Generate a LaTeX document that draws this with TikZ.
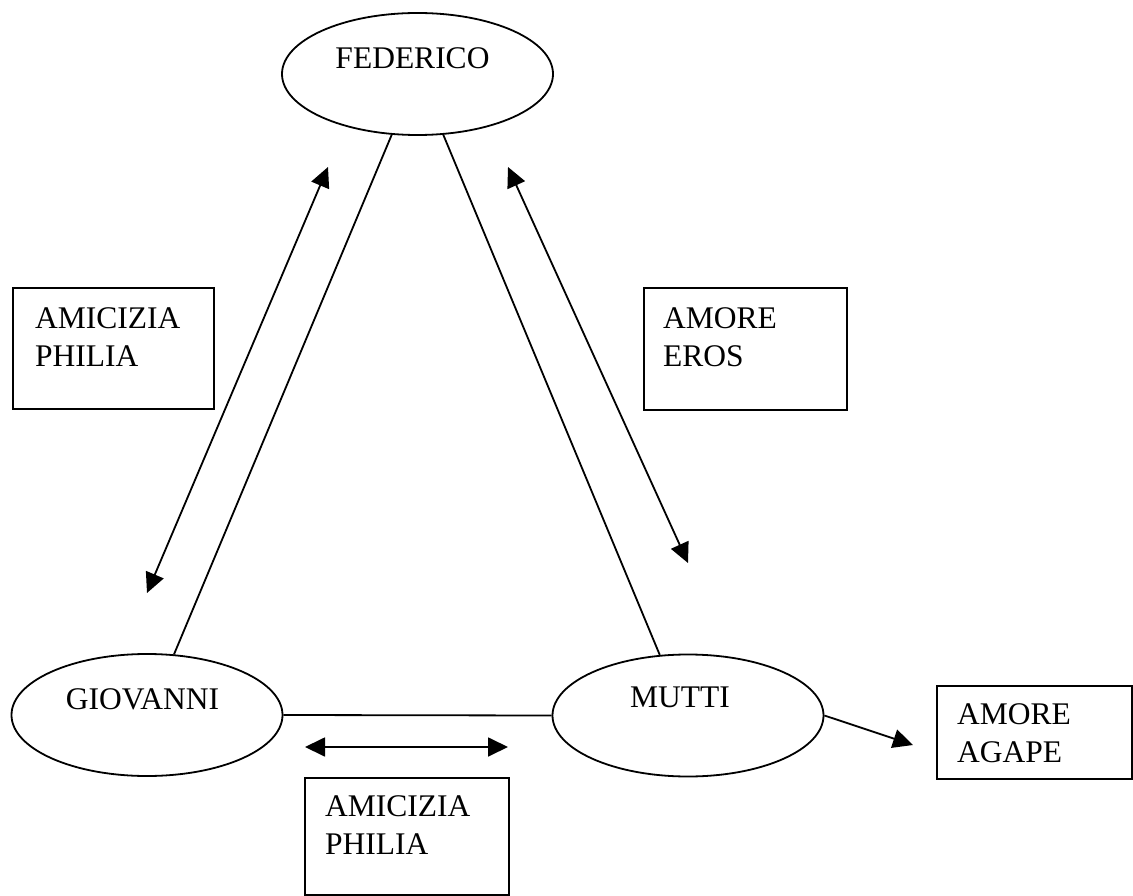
\documentclass[tikz,border=0pt]{standalone}
\usepackage{fontspec}
\setmainfont{Liberation Serif}
\usetikzlibrary{shapes.geometric,arrows.meta,calc}
\tikzset{
  person/.style={draw, ellipse, line width=1.8pt, inner sep=0pt, minimum width=271pt, minimum height=122pt},
  pname/.style={inner sep=0pt, anchor=north, font=\fontsize{31.5}{38}\selectfont},
  box/.style={draw, rectangle, line width=2pt, inner sep=0pt, anchor=north west},
  lbl/.style={inner sep=0pt, anchor=north west, align=left, font=\fontsize{31.5}{38}\selectfont},
  link/.style={line width=1.8pt},
  rel/.style={line width=1.8pt, {Triangle[length=20pt,width=19pt]}-{Triangle[length=20pt,width=19pt]}},
  onerel/.style={line width=1.8pt, -{Triangle[length=20pt,width=19pt]}}
}
\begin{document}
\begin{tikzpicture}[x=1pt,y=-1pt]
\useasboundingbox (0,0) rectangle (1133,896);
% persons
\node[person] (fed) at (417.5,74) {};
\node[person] (gio) at (147,715) {};
\node[person] (mut) at (688,715.5) {};
\node[pname] (fedl) at (412.5,47) {FEDERICO};
\node[pname] (giol) at (142.5,688) {GIOVANNI};
\node[pname] (mutl) at (680,687) {MUTTI};
% links
\draw[link] (fed.247) -- (gio.66);
\draw[link] (fed.293) -- (mut.115);
\draw[link] (gio.east) -- (mut.west);
% boxes
\node[box, minimum width=201pt, minimum height=121pt] (b1) at (12,287) {};
\node[lbl] (b1l) at (35,307) {AMICIZIA\\PHILIA};
\node[box, minimum width=203pt, minimum height=122pt] (b2) at (643,287) {};
\node[lbl] (b2l) at (663,307) {AMORE\\EROS};
\node[box, minimum width=195pt, minimum height=93pt] (b3) at (936,685) {};
\node[lbl] (b3l) at (957,703) {AMORE\\AGAPE};
\node[box, minimum width=204pt, minimum height=117pt] (b4) at (304,777) {};
\node[lbl] (b4l) at (325,795) {AMICIZIA\\PHILIA};
% relation arrows
\coordinate (a1s) at (328,167);
\coordinate (a1e) at (147,593);
\coordinate (a2s) at (508,167);
\coordinate (a2e) at (688,563);
\coordinate (a3s) at (305,747);
\coordinate (a3e) at (508,747);
\coordinate (a4e) at (913,745);
\draw[rel] (a1e) -- (a1s);
\draw[rel] (a2s) -- (a2e);
\draw[rel] (a3s) -- (a3e);
\draw[onerel] (mut.east) -- (a4e);
\end{tikzpicture}
\end{document}
